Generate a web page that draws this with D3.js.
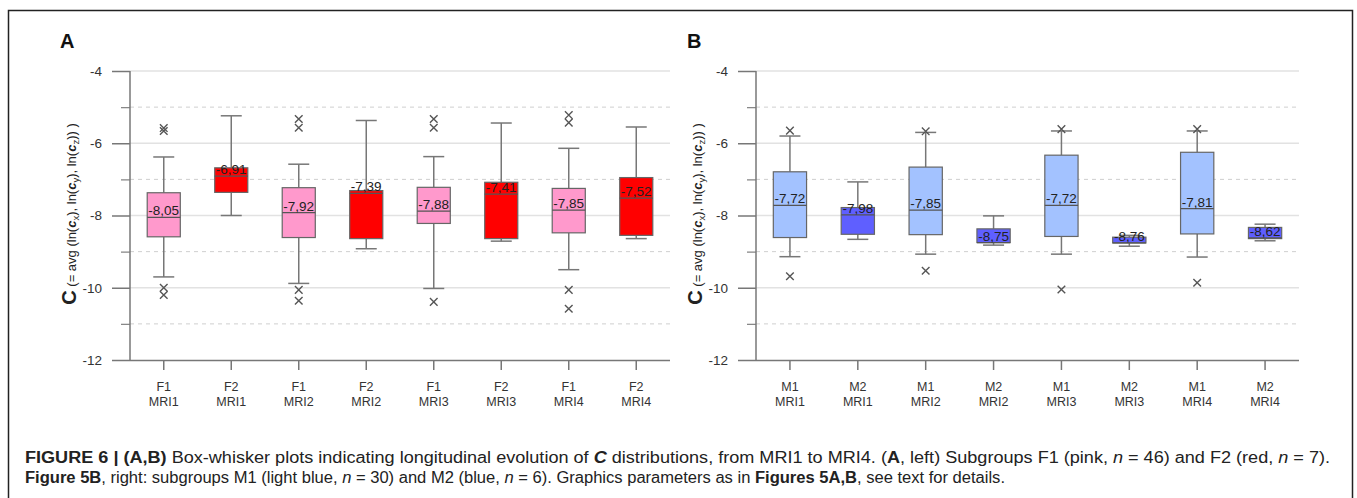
<!DOCTYPE html>
<html>
<head>
<meta charset="utf-8">
<script src="https://cdn.jsdelivr.net/npm/d3@7"></script>
<style>
  body { margin: 0; background: #fff; }
  svg text { font-family: "Liberation Sans", Arial, sans-serif; }
</style>
</head>
<body>
<script>
// ---- data ----
var groupsA = ["F1|MRI1", "F2|MRI1", "F1|MRI2", "F2|MRI2", "F1|MRI3", "F2|MRI3", "F1|MRI4", "F2|MRI4"];
var lowA  = [-9.70, -8.00, -9.88, -8.92, -10.02, -8.71, -9.50, -8.64];
var q1A   = [-8.59, -7.36, -8.61, -8.64, -8.22, -8.64, -8.48, -8.55];
var medA  = [-8.05, -6.91, -7.92, -7.39, -7.88, -7.41, -7.85, -7.52];
var q3A   = [-7.37, -6.68, -7.23, -7.31, -7.22, -7.08, -7.25, -6.95];
var highA = [-6.38, -5.24, -6.58, -5.37, -6.37, -5.44, -6.14, -5.55];
var outA  = [[-5.58, -5.66, -10.0, -10.2], [], [-5.33, -5.57, -10.06, -10.36], [],
             [-5.33, -5.57, -10.39], [], [-5.22, -5.43, -10.06, -10.58], []];
var labelA = ["-8,05", "-6,91", "-7,92", "-7,39", "-7,88", "-7,41", "-7,85", "-7,52"];

var groupsB = ["M1|MRI1", "M2|MRI1", "M1|MRI2", "M2|MRI2", "M1|MRI3", "M2|MRI3", "M1|MRI4", "M2|MRI4"];
var lowB  = [-9.14, -8.66, -9.07, -8.82, -9.07, -8.85, -9.15, -8.70];
var q1B   = [-8.61, -8.52, -8.53, -8.75, -8.58, -8.76, -8.51, -8.64];
var medB  = [-7.72, -7.98, -7.85, -8.75, -7.72, -8.76, -7.81, -8.62];
var q3B   = [-6.79, -7.78, -6.66, -8.37, -6.33, -8.60, -6.25, -8.33];
var highB = [-5.80, -7.07, -5.70, -8.01, -5.66, -8.55, -5.66, -8.24];
var outB  = [[-5.65, -9.68], [], [-5.67, -9.53], [], [-5.61, -10.05], [], [-5.61, -9.86], []];
var labelB = ["-7,72", "-7,98", "-7,85", "-8,75", "-7,72", "-8,76", "-7,81", "-8,62"];

var yTicks = [-4, -6, -8, -10, -12];
var yMinor = [-5, -7, -9, -11];

var colorA = { F1: "#ff99cc", F2: "#ff0000" };
var colorB = { M1: "#a3c2ff", M2: "#5f5fff" };

var W = 1357, H = 498;
var svg = d3.select("body").append("svg").attr("width", W).attr("height", H);

// outer frame
svg.append("path")
  .attr("d", "M8.5," + (H + 2) + "V10.5H1352.5V" + (H + 2))
  .attr("fill", "none").attr("stroke", "#222").attr("stroke-width", 1.5);

var y = d3.scaleLinear().domain([-12, -4]).range([360, 71]);

function drawPanel(letter, letterX, left, right, groups, low, q1, med, q3, high, outs, labels, colors) {
  var g = svg.append("g");
  var x = d3.scaleBand().domain(groups).range([left, right]).paddingInner(0.51).paddingOuter(0.255);
  var half = x.bandwidth() / 2;

  g.append("text").attr("x", letterX).attr("y", 48)
    .style("font-size", "20px").style("font-weight", "bold").attr("fill", "#111").text(letter);

  // grid
  g.selectAll(".gmaj").data(yTicks.slice(0, 4)).enter().append("line")
    .attr("x1", left).attr("x2", right).attr("y1", y).attr("y2", y)
    .attr("stroke", "#e2e2e2").attr("stroke-width", 1.3);
  g.selectAll(".gmin").data(yMinor).enter().append("line")
    .attr("x1", left).attr("x2", right).attr("y1", y).attr("y2", y)
    .attr("stroke", "#cfcfcf").attr("stroke-width", 1).attr("stroke-dasharray", "4,4");

  // y axis
  var yAxis = d3.axisLeft(y).tickValues(yTicks).tickSize(18).tickPadding(10).tickFormat(function (d) { return String(d); });
  var ya = g.append("g").attr("transform", "translate(" + left + ",0)").call(yAxis);
  ya.select(".domain").remove();
  ya.selectAll("line").attr("stroke", "#777").attr("stroke-width", 1.5);
  ya.selectAll("text").style("font-size", "13.5px").attr("fill", "#333").style("font-family", "Liberation Sans, Arial");
  var yb = g.append("g").attr("transform", "translate(" + left + ",0)")
    .call(d3.axisLeft(y).tickValues(yMinor).tickSize(9).tickFormat(""));
  yb.select(".domain").remove();
  yb.selectAll("line").attr("stroke", "#888").attr("stroke-width", 1.3);

  g.append("line").attr("x1", left).attr("x2", left).attr("y1", y(-4)).attr("y2", y(-12))
    .attr("stroke", "#777").attr("stroke-width", 1.5);

  // x axis
  var xa = g.append("g").attr("transform", "translate(0," + y(-12) + ")")
    .call(d3.axisBottom(x).tickSize(10).tickFormat(""));
  xa.select(".domain").attr("d", "M" + left + ",0.5H" + right).attr("stroke", "#777").attr("stroke-width", 1.5);
  xa.selectAll("line").attr("stroke", "#777").attr("stroke-width", 1.5);
  groups.forEach(function (d) {
    var parts = d.split("|");
    var t = g.append("text").attr("text-anchor", "middle").attr("fill", "#333").style("font-size", "12.5px");
    t.append("tspan").attr("x", x(d) + half).attr("y", 391).text(parts[0]);
    t.append("tspan").attr("x", x(d) + half).attr("y", 406).text(parts[1]);
  });

  // y label
  var lab = g.append("text")
    .attr("transform", "translate(" + (left - 54) + "," + 214 + ") rotate(-90)")
    .attr("text-anchor", "middle").attr("fill", "#222").style("font-size", "13px");
  lab.append("tspan").style("font-size", "20px").style("font-weight", "bold").text("C");
  lab.append("tspan").text(" (= avg (ln(");
  [["x", "), ln("], ["y", "), ln("], ["z", ")) )"]].forEach(function (p) {
    lab.append("tspan").style("font-style", "italic").style("font-weight", "bold").text("c");
    lab.append("tspan").attr("dy", 3).style("font-size", "9.5px").text(p[0]);
    lab.append("tspan").attr("dy", -3).text(p[1]);
  });

  // boxes
  var boxes = g.selectAll(".box").data(groups).enter().append("g");
  boxes.each(function (d, i) {
    var b = d3.select(this);
    var cx = x(d) + half;
    var capW = 10.5;
    b.append("line").attr("x1", cx).attr("x2", cx).attr("y1", y(high[i])).attr("y2", y(q3[i]))
      .attr("stroke", "#777").attr("stroke-width", 1.5);
    b.append("line").attr("x1", cx).attr("x2", cx).attr("y1", y(q1[i])).attr("y2", y(low[i]))
      .attr("stroke", "#777").attr("stroke-width", 1.5);
    [high[i], low[i]].forEach(function (v) {
      b.append("line").attr("x1", cx - capW).attr("x2", cx + capW).attr("y1", y(v)).attr("y2", y(v))
        .attr("stroke", "#777").attr("stroke-width", 1.5);
    });
    b.append("rect").attr("x", x(d)).attr("width", x.bandwidth())
      .attr("y", y(q3[i])).attr("height", y(q1[i]) - y(q3[i]))
      .attr("fill", colors[d.split("|")[0]]).attr("stroke", "#666").attr("stroke-width", 1.2);
    b.append("line").attr("x1", x(d)).attr("x2", x(d) + x.bandwidth())
      .attr("y1", y(med[i])).attr("y2", y(med[i])).attr("stroke", "#555").attr("stroke-width", 1.2);
    b.append("text").attr("x", cx).attr("y", y(med[i]) - 2).attr("text-anchor", "middle")
      .attr("fill", "#222").style("font-size", "13.5px").text(labels[i]);
    outs[i].forEach(function (v) {
      var s = 3.8, oy = y(v);
      b.append("path")
        .attr("d", "M" + (cx - s) + "," + (oy - s) + "L" + (cx + s) + "," + (oy + s) +
                   "M" + (cx - s) + "," + (oy + s) + "L" + (cx + s) + "," + (oy - s))
        .attr("stroke", "#555").attr("stroke-width", 1.4);
    });
  });
}

drawPanel("A", 60, 130, 670, groupsA, lowA, q1A, medA, q3A, highA, outA, labelA, colorA);
drawPanel("B", 687, 756, 1299, groupsB, lowB, q1B, medB, q3B, highB, outB, labelB, colorB);

// caption
var cap1 = [["FIGURE 6 | (A,B)", "b"], [" Box-whisker plots indicating longitudinal evolution of ", ""], ["C", "bi"],
  [" distributions, from MRI1 to MRI4. (", ""], ["A", "b"], [", left) Subgroups F1 (pink, ", ""], ["n", "i"],
  [" = 46) and F2 (red, ", ""], ["n", "i"], [" = 7).", ""]];
var cap2 = [["Figure 5B", "b"], [", right: subgroups M1 (light blue, ", ""], ["n", "i"], [" = 30) and M2 (blue, ", ""],
  ["n", "i"], [" = 6). Graphics parameters as in ", ""], ["Figures 5A,B", "b"], [", see text for details.", ""]];

function captionLine(parts, yy, len) {
  var t = svg.append("text").attr("x", 25).attr("y", yy).attr("fill", "#222").style("font-size", "16px")
    .attr("textLength", len).attr("lengthAdjust", "spacingAndGlyphs");
  parts.forEach(function (p) {
    t.append("tspan").text(p[0])
      .style("font-weight", p[1].indexOf("b") >= 0 ? "bold" : "normal")
      .style("font-style", p[1].indexOf("i") >= 0 ? "italic" : "normal");
  });
}
captionLine(cap1, 463, 1305);
captionLine(cap2, 483, 980);
</script>
</body>
</html>
